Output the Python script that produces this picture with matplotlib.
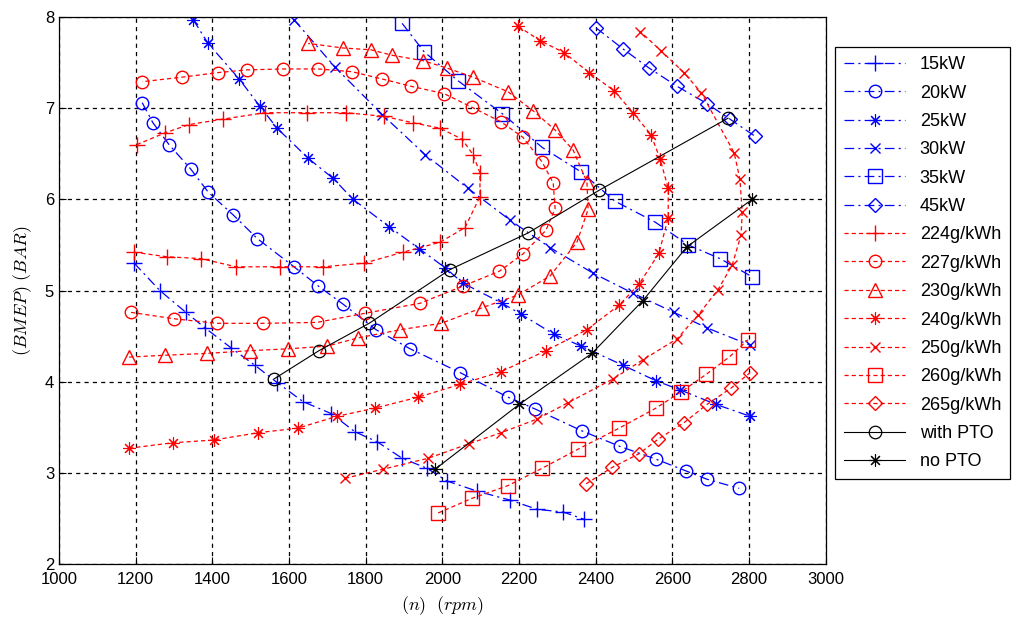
import matplotlib
matplotlib.use('Agg')
import matplotlib.pyplot as plt

plt.rcParams['font.family'] = ['Liberation Sans', 'DejaVu Sans']
plt.rcParams['mathtext.fontset'] = 'cm'
plt.rcParams['lines.scale_dashes'] = False

# constant power lines (blue)
rpm_15 = [1196, 1263, 1331, 1381, 1449, 1511, 1569, 1637, 1710, 1772, 1830, 1895, 1960, 2012, 2090, 2177, 2247, 2315, 2370]
bar_15 = [5.30, 5.00, 4.76, 4.59, 4.37, 4.18, 3.99, 3.78, 3.65, 3.45, 3.34, 3.16, 3.05, 2.91, 2.80, 2.70, 2.60, 2.57, 2.49]

rpm_20 = [1217, 1245, 1287, 1344, 1389, 1454, 1517, 1613, 1676, 1741, 1827, 1916, 2046, 2171, 2242, 2364, 2463, 2557, 2636, 2690, 2774]
bar_20 = [7.06, 6.84, 6.60, 6.33, 6.08, 5.83, 5.57, 5.26, 5.05, 4.85, 4.57, 4.36, 4.10, 3.83, 3.70, 3.46, 3.29, 3.15, 3.02, 2.93, 2.83]

rpm_25 = [1350, 1389, 1470, 1524, 1569, 1650, 1715, 1767, 1861, 1939, 2007, 2054, 2156, 2205, 2291, 2362, 2471, 2557, 2620, 2714, 2803]
bar_25 = [7.97, 7.71, 7.32, 7.02, 6.78, 6.45, 6.23, 6.00, 5.70, 5.46, 5.25, 5.08, 4.86, 4.74, 4.52, 4.39, 4.18, 4.01, 3.91, 3.75, 3.62]

rpm_30 = [1613, 1720, 1843, 1955, 2067, 2177, 2281, 2393, 2497, 2604, 2690, 2803]
bar_30 = [7.97, 7.45, 6.93, 6.49, 6.12, 5.77, 5.47, 5.19, 4.97, 4.76, 4.59, 4.40]

rpm_35 = [1895, 1952, 2041, 2156, 2260, 2362, 2450, 2555, 2641, 2724, 2808]
bar_35 = [7.93, 7.62, 7.30, 6.94, 6.57, 6.30, 5.98, 5.75, 5.50, 5.35, 5.15]

rpm_45 = [2401, 2471, 2539, 2612, 2690, 2750, 2816]
bar_45 = [7.88, 7.65, 7.44, 7.24, 7.05, 6.88, 6.69]

# specific fuel consumption contours (red)
rpm_224 = [1196, 1282, 1370, 1462, 1577, 1689, 1796, 1897, 1994, 2059, 2098, 2098, 2080, 2051, 1994, 1923, 1848, 1749, 1647, 1537, 1428, 1339, 1277, 1203]
bar_224 = [5.42, 5.37, 5.35, 5.26, 5.26, 5.26, 5.30, 5.42, 5.53, 5.69, 6.03, 6.29, 6.49, 6.66, 6.78, 6.84, 6.91, 6.95, 6.95, 6.95, 6.88, 6.82, 6.73, 6.60]

rpm_227 = [1188, 1300, 1412, 1532, 1673, 1798, 1942, 2054, 2148, 2210, 2270, 2294, 2289, 2260, 2210, 2153, 2077, 2004, 1918, 1843, 1764, 1676, 1584, 1490, 1415, 1321, 1217]
bar_227 = [4.76, 4.69, 4.64, 4.64, 4.65, 4.75, 4.86, 5.05, 5.21, 5.40, 5.66, 5.90, 6.18, 6.41, 6.68, 6.85, 7.01, 7.16, 7.24, 7.32, 7.40, 7.43, 7.43, 7.42, 7.39, 7.34, 7.29]

rpm_230 = [1183, 1277, 1386, 1498, 1597, 1699, 1780, 1890, 1997, 2103, 2197, 2281, 2351, 2380, 2377, 2341, 2294, 2237, 2171, 2080, 2012, 1950, 1869, 1814, 1741, 1650]
bar_230 = [4.27, 4.29, 4.31, 4.34, 4.36, 4.39, 4.48, 4.57, 4.64, 4.81, 4.95, 5.16, 5.53, 5.89, 6.19, 6.54, 6.76, 6.97, 7.18, 7.34, 7.44, 7.52, 7.58, 7.64, 7.66, 7.71]

rpm_240 = [1183, 1297, 1404, 1519, 1623, 1725, 1824, 1937, 2046, 2153, 2270, 2377, 2461, 2513, 2565, 2589, 2589, 2568, 2544, 2497, 2448, 2383, 2317, 2255, 2197]
bar_240 = [3.27, 3.33, 3.36, 3.44, 3.49, 3.62, 3.71, 3.83, 3.97, 4.11, 4.34, 4.57, 4.84, 5.07, 5.41, 5.80, 6.12, 6.44, 6.71, 6.95, 7.19, 7.39, 7.61, 7.74, 7.90]

rpm_250 = [1746, 1845, 1963, 2070, 2153, 2247, 2328, 2445, 2523, 2612, 2667, 2719, 2756, 2779, 2782, 2776, 2761, 2675, 2630, 2570, 2516]
bar_250 = [2.94, 3.04, 3.16, 3.32, 3.44, 3.59, 3.77, 4.03, 4.24, 4.47, 4.73, 5.01, 5.28, 5.61, 5.86, 6.22, 6.51, 7.17, 7.39, 7.63, 7.84]

rpm_260 = [1989, 2077, 2171, 2260, 2354, 2461, 2557, 2623, 2688, 2748, 2797]
bar_260 = [2.56, 2.72, 2.86, 3.05, 3.26, 3.49, 3.71, 3.89, 4.08, 4.27, 4.46]

rpm_265 = [2375, 2443, 2513, 2563, 2630, 2690, 2753, 2803]
bar_265 = [2.88, 3.06, 3.21, 3.37, 3.55, 3.75, 3.93, 4.10]

# operating lines (black)
rpm_pto = [1561, 1678, 1809, 2020, 2223, 2409, 2745]
bar_pto = [4.03, 4.34, 4.64, 5.23, 5.63, 6.10, 6.89]

rpm_nopto = [1981, 2200, 2390, 2523, 2638, 2808]
bar_nopto = [3.04, 3.75, 4.31, 4.89, 5.48, 6.00]

# matlab style asterisk: 8 spokes
ast = (8, 2, 0)

blue_series = [
    (rpm_15, bar_15, '+', '15kW'),
    (rpm_20, bar_20, 'o', '20kW'),
    (rpm_25, bar_25, ast, '25kW'),
    (rpm_30, bar_30, 'x', '30kW'),
    (rpm_35, bar_35, 's', '35kW'),
    (rpm_45, bar_45, 'D', '45kW'),
]
red_series = [
    (rpm_224, bar_224, '+', '224g/kWh'),
    (rpm_227, bar_227, 'o', '227g/kWh'),
    (rpm_230, bar_230, '^', '230g/kWh'),
    (rpm_240, bar_240, ast, '240g/kWh'),
    (rpm_250, bar_250, 'x', '250g/kWh'),
    (rpm_260, bar_260, 's', '260g/kWh'),
    (rpm_265, bar_265, 'D', '265g/kWh'),
]


def msize(m):
    sizes = {'+': 11, 'o': 9, 'x': 7, 's': 10, 'D': 7.5, '^': 10}
    return sizes.get(m, 9) if isinstance(m, str) else 9


def mew(m):
    return 1.0 if isinstance(m, str) else 0.8


fig = plt.figure(figsize=(10.17, 6.2), dpi=100)
ax = fig.add_axes([0.058, 0.0903, 0.754, 0.8823])

for x, y, m, name in blue_series:
    ax.plot(x, y, color='blue', marker=m, markersize=msize(m), markerfacecolor='none',
            markeredgewidth=mew(m), linewidth=0.9, dashes=(7, 3, 1.5, 3), label=name)

for x, y, m, name in red_series:
    ax.plot(x, y, color='red', marker=m, markersize=msize(m), markerfacecolor='none',
            markeredgewidth=mew(m), linewidth=0.9, dashes=(3, 2.2), label=name)

ax.plot(rpm_pto, bar_pto, color='black', marker='o', markersize=9, markerfacecolor='none',
        markeredgewidth=0.9, linewidth=0.8, label='with PTO')
ax.plot(rpm_nopto, bar_nopto, color='black', marker=ast, markersize=9,
        markeredgewidth=0.8, linewidth=0.8, label='no PTO')

ax.set_xlim(1000, 3000)
ax.set_ylim(2, 8)
ax.set_xticks(range(1000, 3001, 200))
ax.set_yticks(range(2, 9))
ax.tick_params(direction='in', length=5, labelsize=12, colors='black')
ax.tick_params(axis='x', pad=6)
ax.grid(True, color='black', linestyle=(0, (3, 3)), linewidth=0.9)
for s in ax.spines.values():
    s.set_linewidth(0.9)

ax.set_xlabel(r'$(n)\ \ (rpm)$', fontsize=13, labelpad=5)
ax.set_ylabel(r'$(BMEP)\ (BAR)$', fontsize=13, labelpad=8)

leg = ax.legend(loc='upper left', bbox_to_anchor=(0.821, 0.924), bbox_transform=fig.transFigure,
                fontsize=13, handlelength=3.4, labelspacing=0.63, borderaxespad=0,
                fancybox=False, edgecolor='black', framealpha=1, borderpad=0.5)
leg.get_frame().set_linewidth(0.9)

fig.savefig('out.png', dpi=100)
